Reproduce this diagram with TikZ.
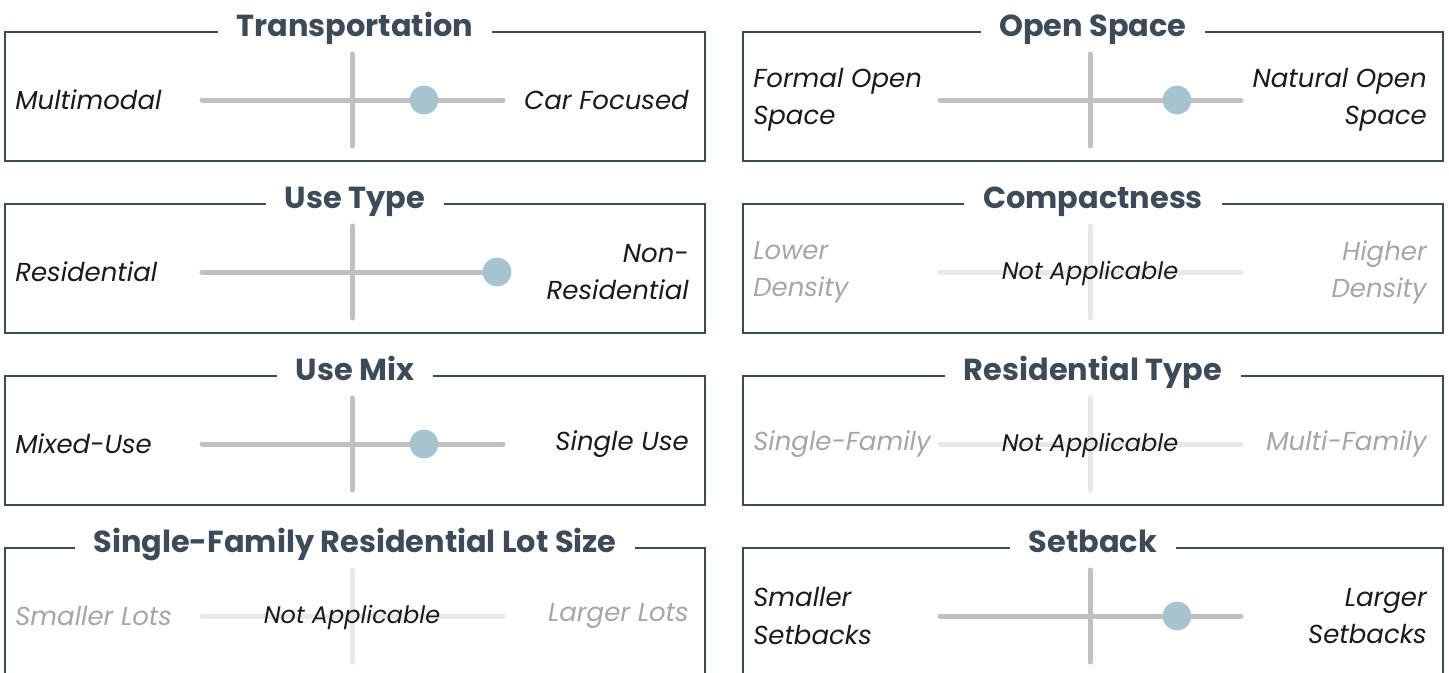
\documentclass[tikz,border=0pt]{standalone}
\usepackage{fontspec}
\setmainfont{Poppins}
\definecolor{slate}{HTML}{3D4A58}
\definecolor{bar}{HTML}{C0C0C0}
\definecolor{barNA}{HTML}{E8E8E8}
\definecolor{knobc}{HTML}{A6C4CF}
\definecolor{lblNA}{HTML}{A6A6A6}
\definecolor{ink}{HTML}{1A1A1A}
\tikzset{
  frame/.style={draw=slate, line width=1.5pt},
  ttl/.style={fill=white, text=slate, font=\fontsize{22.8}{28}\selectfont\bfseries, inner xsep=14pt, inner ysep=0pt, anchor=base},
  lbl/.style={text=ink, font=\fontsize{19.5}{27.8}\selectfont\itshape, inner sep=0pt},
  lblna/.style={lbl, text=lblNA},
  bar/.style={draw=bar, line width=3.75pt, line cap=round},
  barna/.style={draw=barNA, line width=3.75pt, line cap=round},
  knob/.style={circle, fill=knobc, minimum size=21.5pt, inner sep=0pt},
  natext/.style={text=ink, font=\fontsize{18}{20}\selectfont\itshape, inner sep=0pt}
}
% #1 name, #2 xoff, #3 yoff, #4 title, #5 left, #6 right, #7 knob x
\newcommand\actpanel[7]{%
\begin{scope}[shift={(#2,#3)}]
\draw[frame] (5,32) rectangle (705,161);
\node[ttl] (#1-t) at (355,36) {#4};
\coordinate (#1-a) at (202,100); \coordinate (#1-b) at (503,100);
\coordinate (#1-c) at (352,54); \coordinate (#1-d) at (352,146);
\draw[bar] (#1-a) -- (#1-b);
\draw[bar] (#1-c) -- (#1-d);
\node[knob] (#1-k) at (#7,100) {};
\node[lbl, anchor=west, align=left] (#1-l) at (15,100) {#5};
\node[lbl, anchor=east, align=right] (#1-r) at (689,100) {#6};
\end{scope}}
\newcommand\napanel[6]{%
\begin{scope}[shift={(#2,#3)}]
\draw[frame] (5,32) rectangle (705,161);
\node[ttl] (#1-t) at (355,36) {#4};
\coordinate (#1-a) at (202,100); \coordinate (#1-b) at (503,100);
\coordinate (#1-c) at (352,54); \coordinate (#1-d) at (352,146);
\draw[barna] (#1-a) -- (#1-b);
\draw[barna] (#1-c) -- (#1-d);
\node[natext] (#1-n) at (352,101) {Not Applicable};
\node[lblna, anchor=west, align=left] (#1-l) at (15,100) {#5};
\node[lblna, anchor=east, align=right] (#1-r) at (689,100) {#6};
\end{scope}}
\begin{document}
\begin{tikzpicture}[x=0.75pt,y=-0.75pt]
\useasboundingbox (0,0) rectangle (1449,672);
\clip (0,0) rectangle (1449,672);
\actpanel{tr}{0}{0}{Transportation}{Multimodal}{Car Focused}{424}
\actpanel{os}{738}{0}{Open Space}{Formal Open\\Space}{Natural Open\\Space}{439}
\actpanel{ut}{0}{172}{Use Type}{Residential}{Non-\\Residential}{497}
\napanel{cp}{738}{172}{Compactness}{Lower\\Density}{Higher\\Density}
\actpanel{um}{0}{344}{Use Mix}{Mixed-Use}{Single Use}{424}
\napanel{rt}{738}{344}{Residential Type}{Single-Family}{Multi-Family}
\begin{scope}[shift={(0,516)}]
\draw[frame] (5,161) -- (5,32) -- (705,32) -- (705,161);
\end{scope}
\napanel{lot}{0}{516}{Single-Family Residential Lot Size}{Smaller Lots}{Larger Lots}
\actpanel{sb}{738}{516}{Setback}{Smaller\\Setbacks}{Larger\\Setbacks}{439}
\end{tikzpicture}
\end{document}
